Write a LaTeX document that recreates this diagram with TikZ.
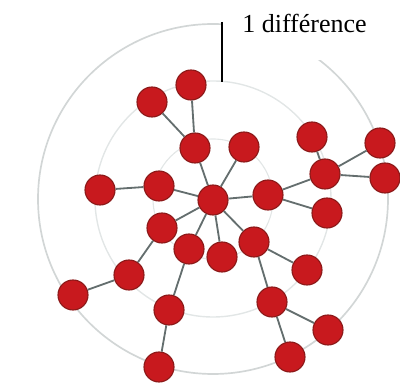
\documentclass[tikz,border=0pt]{standalone}
\usepackage{fontspec}
\setmainfont{Liberation Serif}
\definecolor{rouge}{RGB}{200,25,30}
\definecolor{bordrouge}{RGB}{140,25,25}
\definecolor{gristrait}{RGB}{100,110,110}
\definecolor{griscercle}{RGB}{210,214,214}
\definecolor{grisclair}{RGB}{226,230,230}

\begin{document}
\begin{tikzpicture}[x=0.25mm,y=-0.25mm,
    sommet/.style={circle,fill=rouge,draw=bordrouge,line width=0.8pt,minimum size=7.5mm,inner sep=0pt},
    arete/.style={draw=gristrait,line width=1.3pt}]
        \useasboundingbox (0,0) rectangle (400,388);

        % Cercles de distance
        \coordinate (centre) at (213,199);
        \draw[griscercle, line width=1.2pt] (centre) circle[radius=175];
        \draw[grisclair, line width=1pt] (centre) circle[radius=118];
        \draw[grisclair, line width=0.8pt] (centre) circle[radius=60];

        % Sommets
        \foreach \nom/\px/\py in {c/213/200, a/152/102, b/191/85, d/195/148, e/244/147,
            f/312/137, g/380/143, h/325/174, i/385/178, j/268/195, k/327/213,
            l/100/190, m/159/186, n/162/228, o/189/249, p/222/257, q/254/242,
            r/307/270, s/129/275, t/73/295, u/169/310, v/272/302, w/328/330,
            x/159/367, y/290/357}
            \node[sommet] (\nom) at (\px,\py) {};

        % Liens
        \foreach \u/\v in {c/m, c/d, c/e, c/j, c/n, c/o, c/p, c/q, d/a, d/b, m/l,
            j/h, j/k, h/f, h/g, h/i, n/s, s/t, o/u, u/x, q/r, q/v, v/w, v/y}
            \draw[arete] (\u) -- (\v);

        % Etiquette
        \fill[white] (223,0) rectangle (400,60);
        \coordinate (haut) at (222,22);
        \coordinate (bas) at (222,82);
        \draw[line width=1pt] (haut) -- (bas);
        \node[anchor=base west, inner sep=0pt, font=\fontsize{18.5}{22}\selectfont] (titre) at (242,33) {1 différence};
\end{tikzpicture}
\end{document}
